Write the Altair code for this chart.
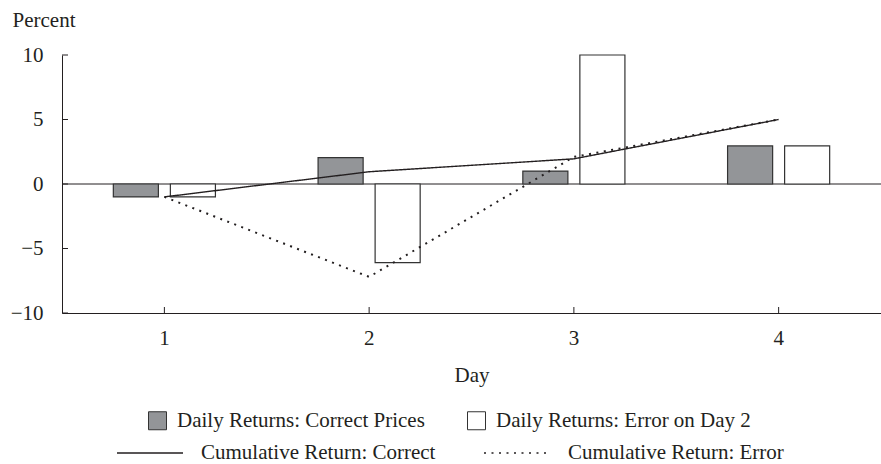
import altair as alt
import pandas as pd

days = [1, 2, 3, 4]
daily_correct = [-1.0, 2.05, 1.0, 2.95]
daily_error = [-1.0, -6.1, 10.0, 2.95]
cum_correct = [-1.0, 0.95, 1.95, 5.0]
cum_error = [-1.0, -7.2, 2.1, 5.0]
y_ticks = [-10, -5, 0, 5, 10]

bar_names = ["Daily Returns: Correct Prices", "Daily Returns: Error on Day 2"]
line_names = ["Cumulative Return: Correct", "Cumulative Return: Error"]

FONT = "Liberation Serif"
INK = "#231f20"
GRAY = "#939598"

bars = pd.DataFrame({
    "Day": days * 2,
    "Series": [bar_names[0]] * 4 + [bar_names[1]] * 4,
    "Value": daily_correct + daily_error,
})
lines = pd.DataFrame({
    "Day": days * 2,
    "Series": [line_names[0]] * 4 + [line_names[1]] * 4,
    "Value": cum_correct + cum_error,
})
ticks_df = pd.DataFrame({"t": y_ticks})
days_df = pd.DataFrame({"Day": days})

x_enc = alt.X(
    "Day:O",
    scale=alt.Scale(paddingInner=0, paddingOuter=0),
    axis=alt.Axis(title="Day", labelAngle=0, ticks=False, labelPadding=14,
                  titlePadding=16, domainColor=INK, labelColor=INK, titleColor=INK,
                  titleFontWeight="normal"),
)
y_scale = alt.Scale(domain=[-10, 10], nice=False, zero=False)

bar_layer = alt.Chart(bars).mark_bar(stroke="#333333", strokeWidth=1.2).encode(
    x=x_enc,
    xOffset=alt.XOffset("Series:N", scale=alt.Scale(domain=bar_names, paddingInner=0.21, paddingOuter=0.9)),
    y=alt.Y("Value:Q", scale=y_scale,
            axis=alt.Axis(title="Percent", values=y_ticks, ticks=False, grid=False,
                          labelPadding=19, domainColor=INK, labelColor=INK,
                          titleAngle=0, titleAlign="left", titleBaseline="alphabetic",
                          titleX=-50, titleY=-29, titleFontWeight="normal", titleColor=INK)),
    fill=alt.Fill("Series:N", scale=alt.Scale(domain=bar_names, range=[GRAY, "#ffffff"]),
                  legend=alt.Legend(title=None, orient="none", legendX=85, legendY=355,
                                    columns=2, columnPadding=40, symbolType="square",
                                    symbolSize=324, symbolStrokeColor="#333333",
                                    symbolStrokeWidth=1, symbolOpacity=1,
                                    labelOffset=9, labelLimit=500, padding=0)),
)

zero_layer = alt.Chart(pd.DataFrame({"z": [0]})).mark_rule(color=INK, strokeWidth=1).encode(
    y=alt.Y("z:Q", scale=y_scale)
)

line_layer = alt.Chart(lines).mark_line(color=INK).encode(
    x=alt.X("Day:O"),
    y=alt.Y("Value:Q", scale=y_scale),
    strokeWidth=alt.StrokeWidth("Series:N", scale=alt.Scale(domain=line_names, range=[1.4, 2.0]), legend=None),
    strokeDash=alt.StrokeDash("Series:N", scale=alt.Scale(domain=line_names, range=[[1, 0], [2, 5.5]]),
                              legend=alt.Legend(title=None, orient="none", legendX=54, legendY=364,
                                                columns=2, columnPadding=44, symbolType="stroke",
                                                symbolSize=4356, symbolStrokeColor=INK,
                                                symbolStrokeWidth=1.6, labelOffset=17,
                                                labelLimit=500, padding=0)),
)

ytick_layer = alt.Chart(ticks_df).mark_rule(color=INK, strokeWidth=1).encode(
    y=alt.Y("t:Q", scale=y_scale), x=alt.value(0), x2=alt.value(6)
)
xtick_layer = alt.Chart(days_df).mark_rule(color=INK, strokeWidth=1).encode(
    x=alt.X("Day:O"), y=alt.value(258), y2=alt.value(252)
)

chart = alt.layer(zero_layer, bar_layer, line_layer, ytick_layer, xtick_layer).resolve_scale(
    strokeDash="independent", fill="independent"
).properties(
    width=819, height=258,
    padding={"left": 62, "top": 55, "right": 0, "bottom": 151},
    autosize=alt.AutoSizeParams(type="none"),
).configure(font=FONT).configure_view(stroke=None).configure_axis(
    labelFont=FONT, titleFont=FONT, labelFontSize=21, titleFontSize=21, grid=False
).configure_legend(labelFont=FONT, labelFontSize=21, labelColor=INK)

chart.save("out.html", embed_options={"renderer": "svg", "actions": False})
